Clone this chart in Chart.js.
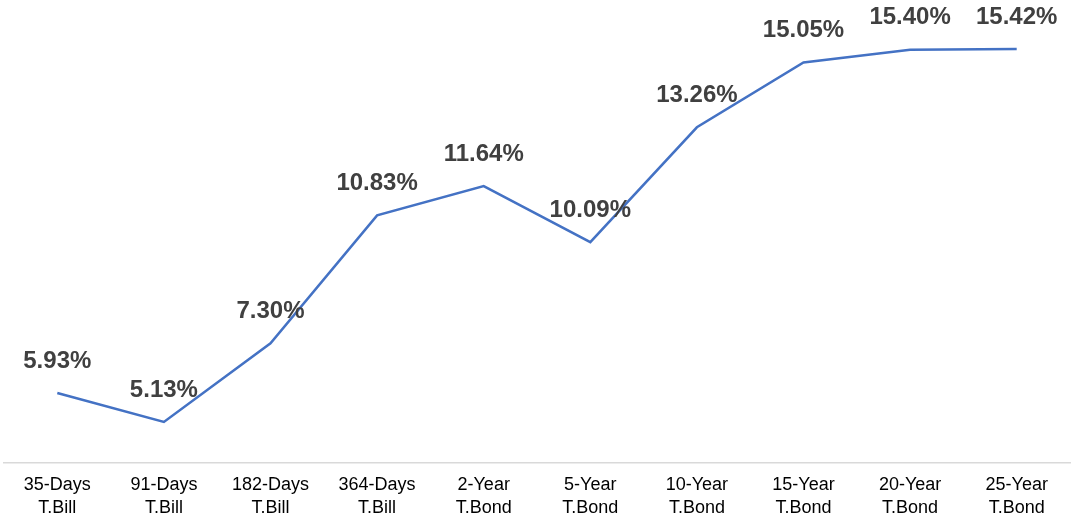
<!DOCTYPE html>
<html>
<head>
<meta charset="utf-8">
<script src="https://cdn.jsdelivr.net/npm/chart.js@4.4.1/dist/chart.umd.min.js"></script>
<style>
    html, body { margin: 0; padding: 0; background: #fff; }
    #wrap { width: 1077px; height: 517px; }
</style>
</head>
<body>
<div id="wrap"><canvas id="yieldChart"></canvas></div>
<script>
const categories = [
    ["35-Days", "T.Bill"], ["91-Days", "T.Bill"], ["182-Days", "T.Bill"], ["364-Days", "T.Bill"],
    ["2-Year", "T.Bond"], ["5-Year", "T.Bond"], ["10-Year", "T.Bond"], ["15-Year", "T.Bond"],
    ["20-Year", "T.Bond"], ["25-Year", "T.Bond"]
];
const yields = [5.93, 5.13, 7.30, 10.83, 11.64, 10.09, 13.26, 15.05, 15.40, 15.42];

// simple value labels above each point (no datalabels plugin offline)
const pointLabels = {
    id: "pointLabels",
    afterDatasetsDraw(chart) {
        const ctx = chart.ctx;
        const meta = chart.getDatasetMeta(0);
        ctx.save();
        ctx.font = "bold 24px 'Liberation Sans', Arial, sans-serif";
        ctx.fillStyle = "#404040";
        ctx.textAlign = "center";
        ctx.textBaseline = "middle";
        meta.data.forEach((pt, i) => {
            ctx.fillText(yields[i].toFixed(2) + "%", pt.x, pt.y - 32);
        });
        ctx.restore();
    }
};

const ctx = document.getElementById("yieldChart");
new Chart(ctx, {
    type: "line",
    data: {
        labels: categories,
        datasets: [{
            data: yields,
            borderColor: "#4472c4",
            borderWidth: 2.5,
            pointRadius: 0,
            tension: 0,
            fill: false
        }]
    },
    options: {
        responsive: true,
        maintainAspectRatio: false,
        animation: false,
        layout: { padding: { left: 4, right: 7, top: 28, bottom: -6 } },
        plugins: {
            legend: { display: false },
            tooltip: { enabled: false }
        },
        scales: {
            x: {
                offset: true,
                grid: { display: false },
                border: { display: true, color: "#d9d9d9", width: 1.5 },
                ticks: {
                    color: "#000",
                    padding: 3,
                    maxRotation: 0,
                    autoSkip: false,
                    font: { family: "'Liberation Sans', Arial, sans-serif", size: 18, lineHeight: 1.28 }
                }
            },
            y: {
                display: false,
                min: 4,
                max: 16
            }
        }
    },
    plugins: [pointLabels]
});
</script>
</body>
</html>
